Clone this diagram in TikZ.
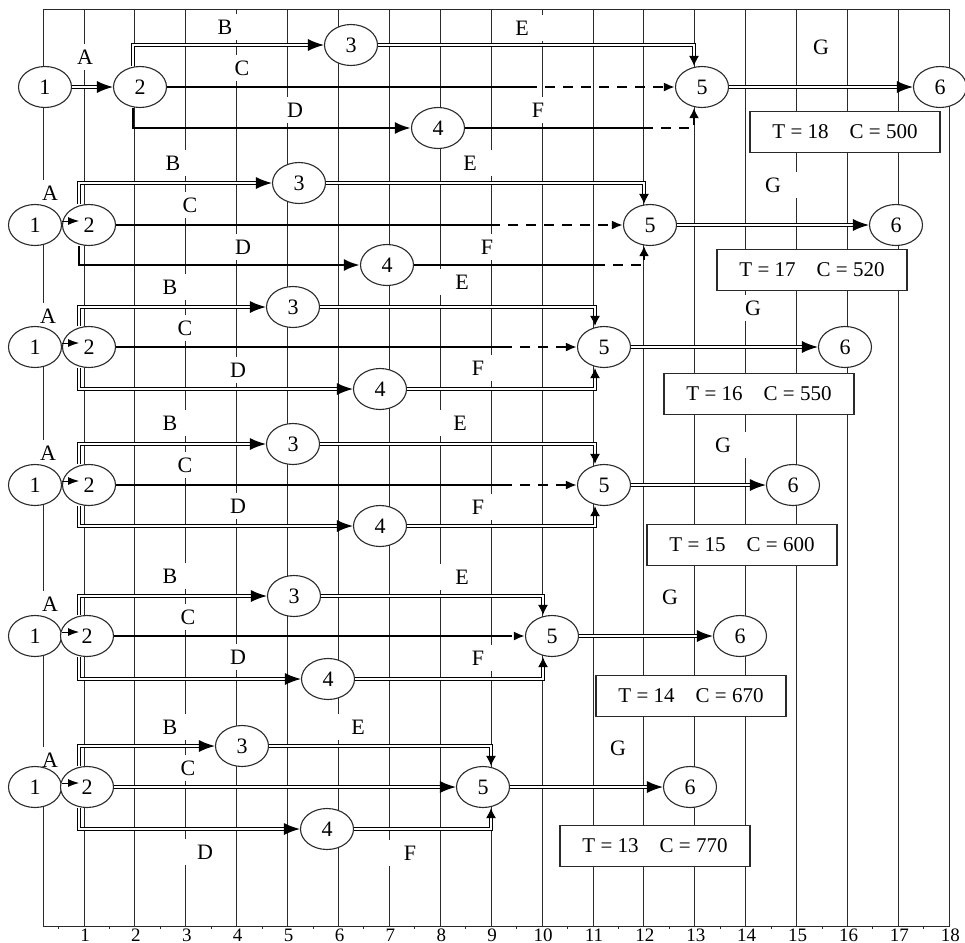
\documentclass[tikz,border=0pt]{standalone}
\usepackage{fontspec}
\setmainfont{Liberation Serif}
\usetikzlibrary{shapes.geometric,arrows.meta,positioning}
\definecolor{gridgray}{HTML}{2A2A2A}
\tikzset{
  gridline/.style={draw=gridgray, line width=0.5pt},
  evt/.style={draw=gridgray, ellipse, fill=white, minimum width=26.5pt,
    minimum height=20.5pt, inner sep=0pt, line width=0.55pt,
    font=\fontsize{11}{12}\selectfont},
  actlabel/.style={fill=white, inner sep=0pt, minimum width=24pt,
    minimum height=13pt, font=\fontsize{11}{12}\selectfont},
  axislabel/.style={anchor=base, inner sep=0pt, font=\fontsize{9.5}{11}\selectfont},
  costbox/.style={draw=gridgray, fill=white, line width=0.55pt, minimum width=95pt,
    minimum height=20.5pt, font=\fontsize{10.5}{12}\selectfont},
  crit/.style={double, double distance=0.9pt, line width=0.65pt},
  solidact/.style={line width=1.4pt},
  slack/.style={line width=1.3pt, dash pattern=on 5pt off 4pt},
  bigtip/.style={-{Latex[length=8pt,width=6pt]}},
  midtip/.style={-{Latex[length=5pt,width=5pt]}},
  dashtip/.style={-{Latex[length=5.5pt,width=4.5pt]}},
  smalltip/.style={-{Latex[length=5.5pt,width=4pt]}},
}

\begin{document}
\begin{tikzpicture}[x=0.5pt, y=-0.5pt]
  \useasboundingbox (0,0) rectangle (965,943);

  % time grid and axis
  \draw[gridline] (43,9) -- (43,926);
  \draw[gridline] (43,9) -- (950,9);
  \draw[gridline] (43,926) -- (950,926);
  \foreach \k in {1,...,18} {
    \draw[gridline] ({84+(\k-1)*50.9},9) -- ({84+(\k-1)*50.9},926);
    \draw[gridline] ({84+(\k-1.5)*50.9},926) -- ({84+(\k-1.5)*50.9},929);
    \node[axislabel] (ax\k) at ({85+(\k-1)*50.9},941) {\k};
  }

  % T = 18
  \node[actlabel] (r1A) at (85,57) {A};
  \node[actlabel] (r1B) at (225,27) {B};
  \node[actlabel] (r1C) at (242,68) {C};
  \node[actlabel] (r1D) at (295,110) {D};
  \node[actlabel] (r1E) at (522,28) {E};
  \node[actlabel] (r1F) at (538,110) {F};
  \node[actlabel] (r1G) at (821,47) {G};
  \node[evt] (r1e1) at (45,87) {1};
  \node[evt] (r1e2) at (140,87) {2};
  \node[evt] (r1e3) at (351,45) {3};
  \node[evt] (r1e4) at (438,128) {4};
  \node[evt] (r1e5) at (702,87) {5};
  \node[evt] (r1e6) at (940,87) {6};
  \node[costbox] (r1tc) at (845,132) {T = 18\quad C = 500};
  \coordinate (r1v) at (133,87);
  \coordinate (r1c) at (527,87);
  \coordinate (r1f) at (643,128);
  \draw[crit,bigtip] (r1e1) -- (r1e2);
  \draw[crit,bigtip] (r1e2.north -| r1v) |- (r1e3);
  \draw[solidact] (r1e2) -- (r1c);
  \draw[slack,dashtip] (r1c) -- (r1e5);
  \draw[solidact,bigtip] (r1e2.south -| r1v) |- (r1e4);
  \draw[crit,midtip] (r1e3) -| ([xshift=-4pt]r1e5.north);
  \draw[solidact] (r1e4) -- (r1f);
  \draw[slack,midtip] (r1f) -| ([xshift=-4pt]r1e5.south);
  \draw[crit,bigtip] (r1e5) -- (r1e6);

  % T = 17
  \node[actlabel] (r2A) at (50,193) {A};
  \node[actlabel] (r2B) at (173,163) {B};
  \node[actlabel] (r2C) at (190,205) {C};
  \node[actlabel] (r2D) at (243,247) {D};
  \node[actlabel] (r2E) at (470,163) {E};
  \node[actlabel] (r2F) at (487,247) {F};
  \node[actlabel] (r2G) at (773,185) {G};
  \node[evt] (r2e1) at (35,225) {1};
  \node[evt] (r2e2) at (89,225) {2};
  \node[evt] (r2e3) at (299,183) {3};
  \node[evt] (r2e4) at (387,265) {4};
  \node[evt] (r2e5) at (650,225) {5};
  \node[evt] (r2e6) at (896,225) {6};
  \node[costbox] (r2tc) at (812,270) {T = 17\quad C = 520};
  \coordinate (r2v) at (79,225);
  \coordinate (r2a) at (79,221);
  \coordinate (r2c) at (490,225);
  \coordinate (r2f) at (595,265);
  \draw[smalltip] (r2e1.east |- r2a) -- (r2a);
  \draw[crit,bigtip] (r2e2.north -| r2v) |- (r2e3);
  \draw[solidact] (r2e2) -- (r2c);
  \draw[slack,dashtip] (r2c) -- (r2e5);
  \draw[solidact,bigtip] (r2e2.south -| r2v) |- (r2e4);
  \draw[crit,midtip] (r2e3) -| ([xshift=-3pt]r2e5.north);
  \draw[solidact] (r2e4) -- (r2f);
  \draw[slack,midtip] (r2f) -| ([xshift=-3pt]r2e5.south);
  \draw[crit,bigtip] (r2e5) -- (r2e6);

  % T = 16
  \node[actlabel] (r3A) at (48,316) {A};
  \node[actlabel] (r3B) at (170,287) {B};
  \node[actlabel] (r3C) at (185,328) {C};
  \node[actlabel] (r3D) at (238,370) {D};
  \node[actlabel] (r3E) at (462,282) {E};
  \node[actlabel] (r3F) at (478,368) {F};
  \node[actlabel] (r3G) at (753,308) {G};
  \node[evt] (r3e1) at (35,347) {1};
  \node[evt] (r3e2) at (89,347) {2};
  \node[evt] (r3e3) at (293,307) {3};
  \node[evt] (r3e4) at (380,389) {4};
  \node[evt] (r3e5) at (604,347) {5};
  \node[evt] (r3e6) at (845,347) {6};
  \node[costbox] (r3tc) at (759,394) {T = 16\quad C = 550};
  \coordinate (r3v) at (79,347);
  \coordinate (r3a) at (79,343);
  \coordinate (r3c) at (502,347);
  \draw[smalltip] (r3e1.east |- r3a) -- (r3a);
  \draw[crit,bigtip] (r3e2.north -| r3v) |- (r3e3);
  \draw[solidact] (r3e2) -- (r3c);
  \draw[slack,dashtip] (r3c) -- (r3e5);
  \draw[crit,bigtip] (r3e2.south -| r3v) |- (r3e4);
  \draw[crit,midtip] (r3e3) -| ([xshift=-4.5pt]r3e5.north);
  \draw[crit,midtip] (r3e4) -| ([xshift=-4.5pt]r3e5.south);
  \draw[crit,bigtip] (r3e5) -- (r3e6);

  % T = 15
  \node[actlabel] (r4A) at (48,453) {A};
  \node[actlabel] (r4B) at (170,423) {B};
  \node[actlabel] (r4C) at (185,465) {C};
  \node[actlabel] (r4D) at (238,506) {D};
  \node[actlabel] (r4E) at (460,423) {E};
  \node[actlabel] (r4F) at (478,507) {F};
  \node[actlabel] (r4G) at (723,445) {G};
  \node[evt] (r4e1) at (35,485) {1};
  \node[evt] (r4e2) at (89,485) {2};
  \node[evt] (r4e3) at (293,444) {3};
  \node[evt] (r4e4) at (380,526) {4};
  \node[evt] (r4e5) at (604,485) {5};
  \node[evt] (r4e6) at (793,485) {6};
  \node[costbox] (r4tc) at (742,545) {T = 15\quad C = 600};
  \coordinate (r4v) at (79,485);
  \coordinate (r4a) at (79,481);
  \coordinate (r4c) at (502,485);
  \draw[smalltip] (r4e1.east |- r4a) -- (r4a);
  \draw[crit,bigtip] (r4e2.north -| r4v) |- (r4e3);
  \draw[solidact] (r4e2) -- (r4c);
  \draw[slack,dashtip] (r4c) -- (r4e5);
  \draw[crit,bigtip] (r4e2.south -| r4v) |- (r4e4);
  \draw[crit,midtip] (r4e3) -| ([xshift=-4.5pt]r4e5.north);
  \draw[crit,midtip] (r4e4) -| ([xshift=-4.5pt]r4e5.south);
  \draw[crit,bigtip] (r4e5) -- (r4e6);

  % T = 14
  \node[actlabel] (r5A) at (50,604) {A};
  \node[actlabel] (r5B) at (170,576) {B};
  \node[actlabel] (r5C) at (188,617) {C};
  \node[actlabel] (r5D) at (238,657) {D};
  \node[actlabel] (r5E) at (462,577) {E};
  \node[actlabel] (r5F) at (478,658) {F};
  \node[actlabel] (r5G) at (670,597) {G};
  \node[evt] (r5e1) at (35,636) {1};
  \node[evt] (r5e2) at (87,636) {2};
  \node[evt] (r5e3) at (294,596) {3};
  \node[evt] (r5e4) at (328,679) {4};
  \node[evt] (r5e5) at (552,636) {5};
  \node[evt] (r5e6) at (740,636) {6};
  \node[costbox] (r5tc) at (691,696) {T = 14\quad C = 670};
  \coordinate (r5v) at (79,636);
  \coordinate (r5a) at (79,632);
  \coordinate (r5c) at (502,636);
  \draw[smalltip] (r5e1.east |- r5a) -- (r5a);
  \draw[crit,bigtip] (r5e2.north -| r5v) |- (r5e3);
  \draw[solidact] (r5e2) -- (r5c);
  \draw[slack,dashtip] (r5c) -- (r5e5);
  \draw[crit,bigtip] (r5e2.south -| r5v) |- (r5e4);
  \draw[crit,midtip] (r5e3) -| ([xshift=-4.5pt]r5e5.north);
  \draw[crit,midtip] (r5e4) -| ([xshift=-4.5pt]r5e5.south);
  \draw[crit,bigtip] (r5e5) -- (r5e6);

  % T = 13
  \node[actlabel] (r6A) at (50,760) {A};
  \node[actlabel] (r6B) at (170,727) {B};
  \node[actlabel] (r6C) at (188,768) {C};
  \node[actlabel] (r6D) at (205,852) {D};
  \node[actlabel] (r6E) at (358,727) {E};
  \node[actlabel] (r6F) at (410,853) {F};
  \node[actlabel] (r6G) at (618,748) {G};
  \node[evt] (r6e1) at (35,787) {1};
  \node[evt] (r6e2) at (87,787) {2};
  \node[evt] (r6e3) at (242,746) {3};
  \node[evt] (r6e4) at (327,829) {4};
  \node[evt] (r6e5) at (483,787) {5};
  \node[evt] (r6e6) at (690,787) {6};
  \node[costbox] (r6tc) at (655,846) {T = 13\quad C = 770};
  \coordinate (r6v) at (79,787);
  \coordinate (r6a) at (79,783);
  \draw[smalltip] (r6e1.east |- r6a) -- (r6a);
  \draw[crit,bigtip] (r6e2.north -| r6v) |- (r6e3);
  \draw[crit,bigtip] (r6e2) -- (r6e5);
  \draw[crit,bigtip] (r6e2.south -| r6v) |- (r6e4);
  \draw[crit,midtip] (r6e3) -| ([xshift=4pt]r6e5.north);
  \draw[crit,midtip] (r6e4) -| ([xshift=4pt]r6e5.south);
  \draw[crit,bigtip] (r6e5) -- (r6e6);
\end{tikzpicture}
\end{document}
